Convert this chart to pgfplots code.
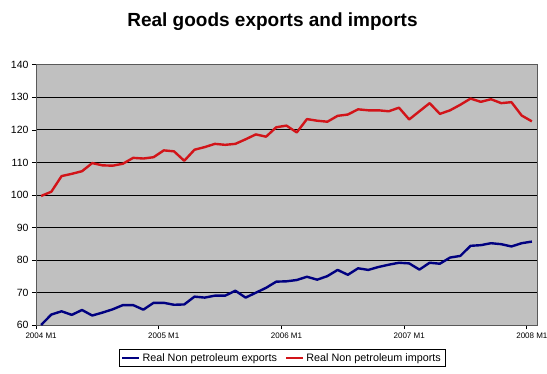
\documentclass[border=0pt]{standalone}
\usepackage{fontspec}
\setmainfont{Liberation Sans}
\usepackage{pgfplots}
\usepackage{pgfplotstable}
\pgfplotsset{compat=1.18}
\definecolor{plotgray}{RGB}{192,192,192}
\definecolor{navyline}{RGB}{0,0,128}
\definecolor{redline}{RGB}{210,20,25}
\pgfplotstableread{
i exp imp
0 60.1 99.7
1 63.3 101.0
2 64.3 105.8
3 63.2 106.5
4 64.7 107.3
5 63.0 109.8
6 63.9 109.1
7 64.9 109.0
8 66.2 109.6
9 66.2 111.4
10 64.8 111.2
11 66.9 111.6
12 66.9 113.7
13 66.3 113.4
14 66.4 110.5
15 68.8 113.9
16 68.5 114.7
17 69.1 115.7
18 69.1 115.4
19 70.6 115.7
20 68.5 117.1
21 70.0 118.6
22 71.5 117.9
23 73.4 120.8
24 73.5 121.3
25 73.9 119.2
26 74.9 123.3
27 74.0 122.8
28 75.1 122.5
29 77.0 124.3
30 75.5 124.7
31 77.5 126.3
32 77.0 126.0
33 77.9 126.0
34 78.6 125.7
35 79.2 126.8
36 79.0 123.2
37 77.1 125.7
38 79.2 128.2
39 78.9 124.9
40 80.8 126.0
41 81.3 127.7
42 84.4 129.6
43 84.6 128.6
44 85.2 129.4
45 84.9 128.2
46 84.2 128.5
47 85.2 124.4
48 85.7 122.6
}\datatable
\begin{document}
\begin{tikzpicture}
\path[use as bounding box] (0pt,0pt) rectangle (547pt,374pt);
\begin{axis}[
  at={(36pt,48.7pt)}, anchor=south west,
  scale only axis, width=501pt, height=260.6pt,
  xmin=-0.5, xmax=48.5, ymin=60, ymax=140,
  axis background/.style={fill=plotgray},
  axis line style={draw=gray!70!black, line width=0.8pt},
  ytick={60,70,...,140},
  ymajorgrids, grid style={black, line width=0.8pt},
  xtick={-0.5,11.5,23.5,35.5,47.5},
  xticklabels={},
  extra x ticks={0,12,24,36,48},
  extra x tick labels={2004 M1,2005 M1,2006 M1,2007 M1,2008 M1},
  extra x tick style={major tick length=0pt, grid=none,
    tick label style={font=\fontsize{8}{9}\selectfont, yshift=-4pt}},
  y tick label style={font=\fontsize{10.5}{12}\selectfont},
  /pgf/number format/assume math mode=true,
  tick style={draw=black, line width=0.6pt},
  major tick length=4pt, tick align=outside,
  tick pos=left,
  title={Real goods exports and imports},
  title style={font=\fontsize{19}{22}\selectfont\bfseries, at={(0.472,1.141)}, anchor=center},
  legend columns=2,
  legend style={at={(0.491,-0.1255)}, anchor=center, draw=black, fill=white,
    font=\fontsize{10.8}{12}\selectfont, inner sep=2pt,
    /tikz/every even column/.append style={column sep=6pt}},
  legend image code/.code={\draw[#1] (0pt,0pt) -- (17pt,0pt);},
]
\addplot[navyline, line width=2.4pt, line join=round] table[x=i, y=exp] {\datatable};
\addlegendentry{Real Non petroleum exports}
\addplot[redline, line width=2.4pt, line join=round] table[x=i, y=imp] {\datatable};
\addlegendentry{Real Non petroleum imports}
\end{axis}
\end{tikzpicture}
\end{document}
